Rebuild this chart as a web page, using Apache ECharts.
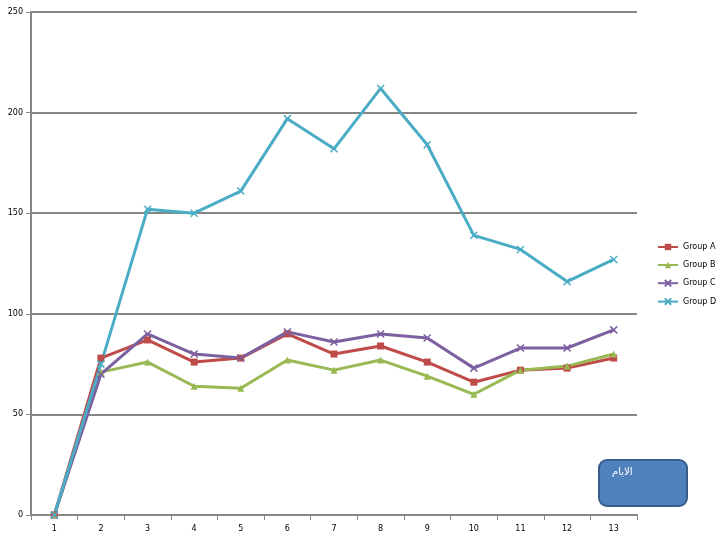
<!DOCTYPE html>
<html><head><meta charset="utf-8">
<script src="https://cdn.jsdelivr.net/npm/echarts@6/dist/echarts.min.js"></script>
<style>html,body{margin:0;padding:0;background:#fff}#c{width:720px;height:540px}</style>
</head><body><div id="c"></div>
<script>
var categories = ['1','2','3','4','5','6','7','8','9','10','11','12','13'];
var groupA = [0,78,87,76,78,90,80,84,76,66,72,73,78];
var groupB = [0,71,76,64,63,77,72,77,69,60,72,74,80];
var groupC = [0,70,90,80,78,91,86,90,88,73,83,83,92];
var groupD = [0,75,152,150,161,197,182,212,184,139,132,116,127];
var seriesNames = ['Group A','Group B','Group C','Group D'];
var boxLabel = 'الايام';

var colors = ['#BE4B48','#98B954','#7D60A0','#4BACC6'];
var xMark = 'path://M0,0L10,10M10,0L0,10';
function mk(name, data, color, symbol, size, stroke){
  return {
    name: name, type: 'line', data: data,
    symbol: symbol, symbolSize: size,
    lineStyle: {color: color, width: 3},
    itemStyle: {color: color, borderColor: color, borderWidth: stroke ? 1.5 : 0},
    emphasis: {disabled: true}, animation: false
  };
}
var chart = echarts.init(document.getElementById('c'));
chart.setOption({
  animation: false,
  grid: {left: 31, right: 83, top: 12, bottom: 25, containLabel: false},
  legend: {
    orient: 'vertical', left: 652, top: 238, itemGap: 10, itemWidth: 20, itemHeight: 8,
    textStyle: {fontSize: 8, color: '#000', fontFamily: 'DejaVu Sans'},
    data: seriesNames
  },
  xAxis: {
    type: 'category', data: categories, boundaryGap: true,
    axisLine: {lineStyle: {color: '#868686', width: 2}},
    axisTick: {show: true, inside: false, length: 5, lineStyle: {color: '#868686', width: 1}},
    axisLabel: {fontSize: 8, color: '#000', fontFamily: 'DejaVu Sans', margin: 10},
    splitLine: {show: false}
  },
  yAxis: {
    type: 'value', min: 0, max: 250, interval: 50,
    axisLine: {show: true, lineStyle: {color: '#868686', width: 2}},
    axisTick: {show: true, length: 5, lineStyle: {color: '#868686', width: 1}},
    axisLabel: {fontSize: 8, color: '#000', fontFamily: 'DejaVu Sans', margin: 8},
    splitLine: {show: true, lineStyle: {color: '#868686', width: 2}}
  },
  series: [
    mk(seriesNames[0], groupA, colors[0], 'rect', 7, false),
    mk(seriesNames[1], groupB, colors[1], 'triangle', 7, false),
    mk(seriesNames[2], groupC, colors[2], xMark, 7, true),
    mk(seriesNames[3], groupD, colors[3], xMark, 7, true)
  ],
  graphic: [{
    type: 'group', left: 598, top: 459,
    children: [
      {type: 'rect', shape: {x: 0, y: 0, width: 88, height: 46, r: 8},
       style: {fill: '#4F81BD', stroke: '#385D8A', lineWidth: 2}},
      {type: 'text', x: 13, y: 7,
       style: {text: boxLabel, fill: '#fff', fontSize: 10, fontFamily: 'DejaVu Sans'}}
    ]
  }]
});
</script></body></html>
